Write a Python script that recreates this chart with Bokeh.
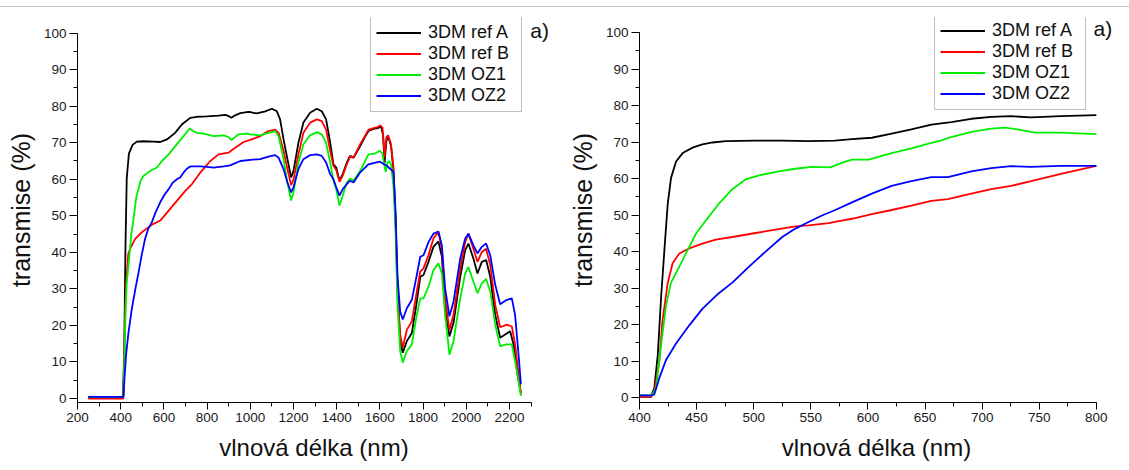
from bokeh.plotting import figure
from bokeh.models import Legend, LegendItem, Label, SingleIntervalTicker, Range1d, Div
from bokeh.layouts import row, column
from bokeh.embed import file_html
from bokeh.resources import INLINE

# ---------------- data: left panel (full range) ----------------
L_A_x = [250, 410, 416, 422, 428, 438, 455, 475, 506, 552,
         583, 614, 652, 683, 722, 753, 799, 853, 884, 900,
         912, 930, 954, 985, 1000, 1030, 1069, 1100, 1123, 1138,
         1154, 1172, 1189, 1200, 1223, 1246, 1277, 1308, 1331, 1351,
         1370, 1385, 1398, 1413, 1428, 1447, 1462, 1478, 1509, 1530,
         1547, 1570, 1590, 1605, 1615, 1622, 1630, 1640, 1652, 1662,
         1672, 1682, 1694, 1706, 1725, 1748, 1771, 1787, 1802, 1825,
         1848, 1871, 1887, 1902, 1922, 1941, 1972, 1995, 2010, 2033,
         2052, 2072, 2092, 2111, 2134, 2157, 2180, 2203, 2219, 2237,
         2253]
L_A_y = [0.2, 0.2, 11.7, 41.3, 60.2, 67.0, 69.4, 70.3, 70.4, 70.3,
         70.2, 70.9, 72.7, 75.0, 76.8, 77.1, 77.2, 77.4, 77.6, 77.3,
         76.8, 77.5, 78.1, 78.4, 78.4, 78.0, 78.6, 79.3, 78.6, 76.4,
         70.9, 65.5, 60.5, 62.3, 70.0, 75.5, 78.2, 79.3, 78.6, 76.4,
         70.0, 64.1, 63.2, 59.6, 61.4, 64.6, 66.4, 65.9, 69.1, 71.5,
         73.2, 73.8, 74.0, 74.5, 72.0, 64.5, 70.5, 71.5, 69.0, 63.0,
         50.0, 30.0, 15.7, 12.5, 15.7, 17.9, 26.5, 33.3, 33.8, 37.4,
         41.5, 43.0, 38.8, 24.7, 17.0, 20.7, 33.3, 40.6, 42.4, 38.3,
         34.2, 37.4, 37.9, 33.3, 22.9, 16.6, 17.5, 18.4, 14.8, 6.6,
         1.6]

L_B_x = [250, 412, 417, 420, 425, 435, 444, 467, 498, 529,
         552, 583, 622, 660, 699, 730, 768, 815, 853, 900,
         930, 969, 1000, 1046, 1084, 1115, 1131, 1154, 1172, 1189,
         1200, 1223, 1246, 1277, 1308, 1331, 1351, 1370, 1385, 1398,
         1413, 1428, 1447, 1462, 1478, 1509, 1547, 1570, 1590, 1601,
         1612, 1622, 1630, 1638, 1650, 1662, 1672, 1682, 1694, 1706,
         1725, 1748, 1771, 1787, 1802, 1825, 1848, 1871, 1887, 1902,
         1922, 1941, 1972, 1995, 2010, 2033, 2052, 2072, 2092, 2111,
         2134, 2157, 2188, 2211, 2226, 2253]
L_B_y = [0.0, 0.0, 10.0, 20.7, 31.4, 39.5, 41.0, 43.7, 45.5, 46.9,
         47.8, 48.7, 51.4, 54.1, 56.8, 58.7, 61.8, 65.0, 66.8, 67.3,
         68.6, 70.2, 70.8, 71.8, 73.2, 73.6, 72.7, 67.8, 62.8, 58.4,
         59.9, 66.8, 72.7, 75.5, 76.4, 75.9, 73.6, 67.8, 63.7, 62.5,
         59.3, 61.0, 64.1, 66.2, 65.9, 69.6, 73.5, 74.0, 74.3, 74.7,
         74.2, 66.0, 71.5, 72.0, 70.0, 64.0, 50.0, 28.0, 17.5, 13.9,
         18.8, 21.1, 29.3, 34.7, 35.6, 39.2, 43.8, 45.6, 41.0, 27.4,
         18.8, 22.9, 35.6, 42.8, 45.1, 41.0, 37.4, 40.1, 41.0, 36.5,
         25.6, 19.5, 20.2, 19.7, 14.8, 1.2]

L_C_x = [250, 412, 419, 423, 428, 441, 449, 458, 472, 493,
         505, 537, 568, 591, 622, 652, 691, 719, 735, 753,
         784, 830, 877, 900, 912, 946, 985, 1000, 1046, 1084,
         1115, 1131, 1154, 1172, 1189, 1200, 1223, 1246, 1277, 1308,
         1331, 1351, 1370, 1385, 1398, 1413, 1428, 1447, 1462, 1478,
         1509, 1547, 1575, 1600, 1612, 1620, 1627, 1635, 1642, 1652,
         1663, 1672, 1682, 1694, 1706, 1725, 1748, 1771, 1787, 1802,
         1825, 1848, 1871, 1887, 1902, 1922, 1941, 1972, 1995, 2010,
         2033, 2052, 2072, 2092, 2111, 2134, 2157, 2188, 2211, 2226,
         2253]
L_C_y = [0.45, 0.45, 14.4, 25.2, 31.5, 39.5, 44.9, 48.5, 55.0, 59.8,
         60.9, 62.3, 63.2, 65.0, 66.8, 69.0, 71.8, 73.9, 73.2, 72.7,
         72.5, 71.8, 72.0, 71.5, 70.7, 72.3, 72.5, 72.3, 72.0, 72.7,
         73.2, 71.8, 65.5, 59.1, 54.2, 56.4, 64.6, 69.6, 72.0, 72.9,
         72.3, 70.0, 64.6, 59.6, 57.3, 52.8, 55.5, 59.1, 60.2, 59.6,
         62.3, 66.8, 67.0, 67.8, 67.0, 64.0, 62.0, 64.5, 65.0, 64.0,
         58.0, 47.0, 25.0, 13.0, 9.8, 13.0, 14.8, 22.9, 27.4, 27.4,
         30.6, 35.1, 37.0, 34.2, 22.9, 12.0, 15.7, 27.4, 34.2, 36.0,
         32.0, 28.8, 31.5, 32.7, 29.3, 20.2, 14.3, 14.8, 14.8, 10.2,
         0.7]

L_D_x = [250, 413, 417, 425, 436, 452, 468, 483, 498, 513,
         528, 544, 562, 583, 602, 622, 640, 660, 675, 691,
         705, 722, 768, 800, 830, 877, 907, 954, 1000, 1046,
         1084, 1115, 1131, 1154, 1172, 1189, 1200, 1223, 1246, 1277,
         1308, 1331, 1351, 1370, 1385, 1398, 1413, 1428, 1447, 1462,
         1478, 1509, 1547, 1575, 1600, 1632, 1663, 1672, 1682, 1694,
         1706, 1725, 1748, 1771, 1787, 1802, 1825, 1848, 1871, 1887,
         1902, 1922, 1941, 1972, 1995, 2010, 2033, 2052, 2072, 2092,
         2111, 2134, 2157, 2188, 2211, 2226, 2242, 2253]
L_D_y = [0.45, 0.45, 5.0, 12.0, 18.0, 24.7, 30.0, 34.6, 39.5, 43.7,
         46.5, 48.2, 51.0, 53.7, 55.7, 57.3, 59.0, 60.0, 60.5, 61.8,
         62.8, 63.5, 63.5, 63.4, 63.2, 63.5, 63.8, 65.0, 65.3, 65.5,
         66.2, 66.6, 65.9, 62.8, 59.1, 56.4, 57.8, 62.8, 65.5, 66.6,
         66.8, 66.4, 64.6, 61.4, 60.0, 57.8, 55.5, 57.3, 58.7, 59.6,
         59.1, 61.9, 64.1, 64.5, 64.8, 63.7, 62.0, 52.0, 33.0, 23.8,
         21.6, 24.7, 27.0, 33.8, 38.8, 39.2, 42.8, 45.1, 45.7, 41.9,
         30.2, 22.5, 26.5, 38.3, 43.8, 45.1, 41.9, 39.7, 41.5, 42.4,
         39.2, 31.1, 25.8, 27.0, 27.4, 22.9, 12.0, 3.9]

# ---------------- data: right panel (400-800 nm detail) ----------------
R_A_x = [400, 410, 413, 416, 419, 422, 424.7, 427.6, 432, 437.8,
         446.5, 455, 464, 475.5, 501.7, 525, 548, 571, 586, 603.4,
         620.8, 638, 655.6, 673, 690.5, 708, 725.4, 742.8, 769, 800]
R_A_y = [0.2, 0.2, 2.7, 11.7, 27.9, 41.3, 53.0, 60.2, 64.7, 67.0,
         68.5, 69.4, 69.9, 70.3, 70.4, 70.4, 70.3, 70.4, 70.8, 71.2,
         72.3, 73.5, 74.8, 75.5, 76.4, 76.9, 77.1, 76.8, 77.1, 77.4]

R_B_x = [400, 410, 413, 417.4, 420, 424.7, 429, 434.9, 443.6, 455,
         466.8, 481.3, 501.7, 519, 536.5, 548, 565.6, 575.7, 586, 603.4,
         620.8, 638, 655.6, 670, 690.5, 708, 725.4, 742.8, 769, 800]
R_B_y = [0.2, 0.2, 1.8, 9.9, 20.7, 31.4, 36.8, 39.5, 40.9, 42.2,
         43.3, 44.0, 45.1, 46.0, 46.9, 47.2, 47.8, 48.4, 49.0, 50.3,
         51.4, 52.6, 53.9, 54.4, 55.9, 57.1, 58.0, 59.3, 61.3, 63.5]

R_C_x = [400, 411, 414.5, 418.9, 423.2, 427.6, 433.4, 440.7, 449.4, 458,
         469.7, 481.3, 493, 504.6, 522, 536.5, 551, 567, 577, 586,
         600.5, 620.8, 638, 655.6, 664.4, 673, 690.5, 708, 719.5, 731,
         742.8, 747, 769, 800]
R_C_y = [0.6, 0.6, 2.7, 14.4, 25.2, 31.5, 35.0, 39.5, 44.9, 48.5,
         53.2, 57.1, 59.8, 60.9, 62.0, 62.7, 63.2, 63.1, 64.3, 65.2,
         65.2, 67.0, 68.3, 69.8, 70.5, 71.4, 72.8, 73.7, 74.0, 73.5,
         72.8, 72.6, 72.6, 72.2]

R_D_x = [400, 411, 413, 417.4, 423.2, 432, 443.6, 455, 468.3, 481.3,
         495.9, 510.4, 525, 536.5, 548, 559.8, 571.4, 586, 603.4, 620.8,
         638, 655.6, 670, 690.5, 708, 725.4, 742.8, 769, 800]
R_D_y = [0.6, 0.6, 0.9, 5.4, 10.3, 14.8, 19.8, 24.3, 28.3, 31.5,
         35.9, 40.0, 44.0, 46.3, 48.1, 49.9, 51.4, 53.5, 55.9, 58.0,
         59.3, 60.4, 60.4, 62.0, 62.9, 63.4, 63.2, 63.5, 63.5]

series_names = ["3DM ref A", "3DM ref B", "3DM OZ1", "3DM OZ2"]
series_colors = ["#000000", "#ff0000", "#00ee00", "#0000ff"]

x_label = "vlnová délka (nm)"
y_label = "transmise (%)"
panel_tag = "a)"

FONT = "Liberation Sans"


def style_axes(p, xb, yb):
    p.outline_line_color = None
    p.xgrid.visible = False
    p.ygrid.visible = False
    p.background_fill_color = "white"
    p.border_fill_color = "white"
    for ax in p.axis:
        ax.axis_line_color = "#000000"
        ax.axis_line_width = 1
        ax.major_tick_line_color = "#000000"
        ax.minor_tick_line_color = "#000000"
        ax.major_tick_in = 0
        ax.minor_tick_in = 0
        ax.minor_tick_out = 4
        ax.major_label_text_font = FONT
        ax.major_label_text_font_size = "13.5px"
        ax.major_label_text_color = "#1a1a1a"
        ax.major_label_standoff = 3
        ax.axis_label_text_font = FONT
        ax.axis_label_text_font_style = "normal"
        ax.axis_label_text_color = "#111111"
    p.xaxis.major_tick_out = 7
    p.yaxis.major_tick_out = 8
    p.xaxis.axis_label_text_font_size = "24px"
    p.yaxis.axis_label_text_font_size = "25px"
    p.xaxis.axis_label_standoff = 9
    p.yaxis.axis_label_standoff = 6
    p.xaxis.bounds = xb
    p.yaxis.bounds = yb


def build(xr, yr, xb, yb, xint, xs, ys, w, h, borders, leg_loc, tag_xy):
    p = figure(width=w, height=h, x_range=Range1d(*xr), y_range=Range1d(*yr),
               output_backend="svg", toolbar_location=None,
               min_border_left=borders[0], min_border_right=borders[1],
               min_border_top=borders[2], min_border_bottom=borders[3],
               x_axis_label=x_label, y_axis_label=y_label)
    p.xaxis.ticker = SingleIntervalTicker(interval=xint, num_minor_ticks=2)
    p.yaxis.ticker = SingleIntervalTicker(interval=10, num_minor_ticks=2)
    style_axes(p, xb, yb)
    items = []
    for name, col, x, y in zip(series_names, series_colors, xs, ys):
        r = p.line(x, y, line_color=col, line_width=1.8)
        items.append(LegendItem(label=name, renderers=[r]))
    leg = Legend(items=items, location=leg_loc, margin=0, padding=5, spacing=0,
                 glyph_width=45, glyph_height=21, label_height=21, label_width=88,
                 label_standoff=7, label_text_font=FONT, label_text_font_size="18px",
                 label_text_color="#111111", border_line_color="#808080",
                 border_line_width=1.3, background_fill_color="white",
                 background_fill_alpha=1.0)
    p.add_layout(leg)
    p.add_layout(Label(x=tag_xy[0], y=tag_xy[1], text=panel_tag, text_font=FONT,
                       text_font_size="21px", text_color="#111111",
                       text_align="left", text_baseline="middle"))
    return p


p1 = build((200, 2390), (-1.1, 104.27), (200, 2300), (-1.1, 100), 200,
           [L_A_x, L_B_x, L_C_x, L_D_x], [L_A_y, L_B_y, L_C_y, L_D_y],
           565, 463, (77, 15, 7, 68), (293, 290), (2296, 100.6))
p2 = build((400, 815), (-1.35, 104.15), (400, 800), (-1.35, 100), 50,
           [R_A_x, R_B_x, R_C_x, R_D_x], [R_A_y, R_B_y, R_C_y, R_D_y],
           564, 463, (72, 16, 10, 62), (295, 292), (797.5, 101.2))

topline = Div(text="", width=1129, height=7, margin=0,
              styles={"border-bottom": "1px solid #c8c8c8", "box-sizing": "border-box"})
layout = column(topline, row(p1, p2, spacing=0), spacing=0)

open("out.html", "w").write(file_html(layout, INLINE))
